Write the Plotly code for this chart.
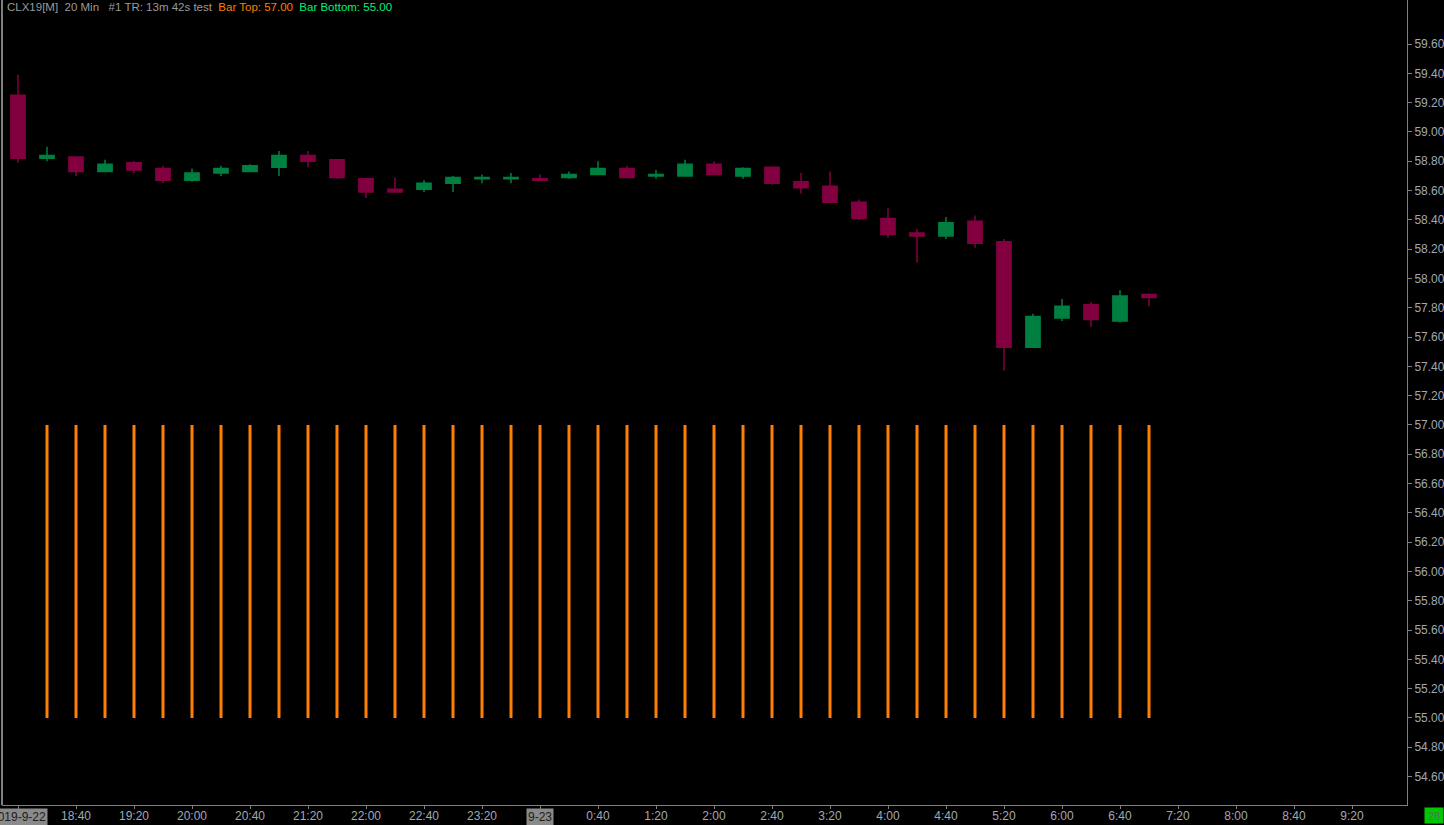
import plotly.graph_objects as go
import pandas as pd

# ---- data ----
candle_start = "2019-09-22 18:00"
n_candles = 40
opens  = [59.25, 58.82, 58.83, 58.73, 58.79, 58.75, 58.67, 58.72, 58.73, 58.76,
          58.84, 58.81, 58.68, 58.61, 58.61, 58.65, 58.68, 58.68, 58.68, 58.69,
          58.71, 58.75, 58.70, 58.70, 58.78, 58.70, 58.76, 58.66, 58.63, 58.52,
          58.41, 58.31, 58.29, 58.39, 58.25, 57.53, 57.73, 57.82, 57.71, 57.89]
highs  = [59.39, 58.90, 58.83, 58.81, 58.80, 58.77, 58.75, 58.77, 58.78, 58.87,
          58.87, 58.81, 58.69, 58.69, 58.67, 58.70, 58.71, 58.72, 58.71, 58.73,
          58.80, 58.77, 58.74, 58.81, 58.80, 58.76, 58.76, 58.72, 58.73, 58.54,
          58.48, 58.34, 58.42, 58.43, 58.27, 57.76, 57.86, 57.84, 57.92, 57.90]
lows   = [58.79, 58.80, 58.70, 58.73, 58.72, 58.65, 58.66, 58.70, 58.73, 58.70,
          58.76, 58.68, 58.55, 58.59, 58.59, 58.59, 58.65, 58.65, 58.67, 58.68,
          58.71, 58.69, 58.68, 58.70, 58.71, 58.68, 58.64, 58.58, 58.52, 58.40,
          58.28, 58.11, 58.27, 58.21, 57.37, 57.53, 57.71, 57.67, 57.70, 57.81]
closes = [58.82, 58.84, 58.73, 58.78, 58.74, 58.67, 58.72, 58.75, 58.77, 58.84,
          58.80, 58.69, 58.59, 58.59, 58.65, 58.69, 58.69, 58.69, 58.67, 58.71,
          58.75, 58.69, 58.71, 58.78, 58.71, 58.75, 58.65, 58.62, 58.52, 58.41,
          58.30, 58.29, 58.38, 58.24, 57.53, 57.74, 57.81, 57.72, 57.88, 57.87]

bar_top = 57.00
bar_bottom = 55.00
bar_start = "2019-09-22 18:20"
n_bars = 39

tick_start = "2019-09-22 18:00"
tick_end = "2019-09-23 09:20"
date_labels = {"2019-09-22 18:00": "2019-9-22", "2019-09-23 00:00": "9-23"}
price_ticks = [54.6, 54.8, 55.0, 55.2, 55.4, 55.6, 55.8, 56.0, 56.2, 56.4, 56.6,
               56.8, 57.0, 57.2, 57.4, 57.6, 57.8, 58.0, 58.2, 58.4, 58.6, 58.8,
               59.0, 59.2, 59.4, 59.6]

title_main = "CLX19[M]  20 Min   #1 TR: 13m 42s test"
title_top = "Bar Top: 57.00"
title_bottom = "Bar Bottom: 55.00"
corner_label = "28"

# ---- derived ----
times = pd.date_range(candle_start, periods=n_candles, freq="20min")
bar_times = pd.date_range(bar_start, periods=n_bars, freq="20min")
tick_times = pd.date_range(tick_start, tick_end, freq="40min")
tick_text = []
for t in tick_times:
    key = t.strftime("%Y-%m-%d %H:%M")
    tick_text.append("" if key in date_labels else f"{t.hour}:{t.minute:02d}")

bx, by = [], []
for t in bar_times:
    bx += [t, t, None]
    by += [bar_bottom, bar_top, None]

GREEN = "#008040"
MAROON = "#82003f"
ORANGE = "#ff8000"
AXIS = "#808080"
TXT = "#a0a8b4"
FONT = "Liberation Sans Narrow, Liberation Sans, Arial Narrow, sans-serif"

fig = go.Figure()
fig.add_trace(go.Scatter(x=bx, y=by, mode="lines",
                         line=dict(color=ORANGE, width=3),
                         hoverinfo="skip", showlegend=False))
fig.add_trace(go.Candlestick(
    x=times, open=opens, high=highs, low=lows, close=closes,
    increasing=dict(line=dict(color=GREEN, width=1.5), fillcolor=GREEN),
    decreasing=dict(line=dict(color=MAROON, width=1.5), fillcolor=MAROON),
    whiskerwidth=0, showlegend=False))

annotations = []
for key, lab in date_labels.items():
    annotations.append(dict(x=key, xref="x", y=0, yref="paper", yanchor="top",
                            yshift=-3, text=lab, showarrow=False,
                            bgcolor="#8a8a8a", borderpad=1, height=14,
                            font=dict(family=FONT, size=12, color="#202020")))
annotations.append(dict(
    x=0, xref="paper", y=1, yref="paper", xanchor="left", yanchor="top",
    xshift=3, yshift=1, showarrow=False,
    text=(f"<span style='color:#9a9a9a'>{title_main}</span>  "
          f"<span style='color:#ff7f00'>{title_top}</span>  "
          f"<span style='color:#00f07a'>{title_bottom}</span>"),
    font=dict(family=FONT, size=11.5)))
annotations.append(dict(
    x=1, xref="paper", y=0, yref="paper", xanchor="left", yanchor="top",
    xshift=17, yshift=-2, showarrow=False, text=corner_label,
    bgcolor="#00c800", width=18, height=15, borderpad=0,
    font=dict(family=FONT, size=11, color="#5e6e5e")))

fig.update_layout(
    width=1444, height=825,
    margin=dict(l=2, r=37, t=0, b=20),
    paper_bgcolor="#000000", plot_bgcolor="#000000",
    boxgap=0.3,
    font=dict(family=FONT, size=12, color=TXT),
    annotations=annotations,
    shapes=[dict(type="line", xref="paper", yref="paper", x0=0, x1=0, y0=0, y1=1,
                 line=dict(color=AXIS, width=2))],
    hovermode=False,
)
fig.update_xaxes(
    type="date",
    range=["2019-09-22 17:48:58", "2019-09-23 09:57:56"],
    rangeslider=dict(visible=False),
    tickvals=list(tick_times), ticktext=tick_text,
    showgrid=False, zeroline=False,
    showline=True, linecolor=AXIS, linewidth=1,
    ticks="outside", ticklen=3, tickcolor=AXIS,
    ticklabelstandoff=-3,
    tickfont=dict(family=FONT, size=12, color=TXT),
    automargin=False,
)
fig.update_yaxes(
    side="right", range=[54.406, 59.901],
    tickvals=price_ticks, tickformat=".2f",
    showgrid=False, zeroline=False,
    showline=True, linecolor=AXIS, linewidth=1,
    ticks="outside", ticklen=4, tickcolor=AXIS,
    tickfont=dict(family=FONT, size=12, color=TXT),
    automargin=False,
)

fig.write_html(
    "out.html",
    config={"displayModeBar": False},
    post_script="document.body.style.margin='0';document.body.style.overflow='hidden';",
)
